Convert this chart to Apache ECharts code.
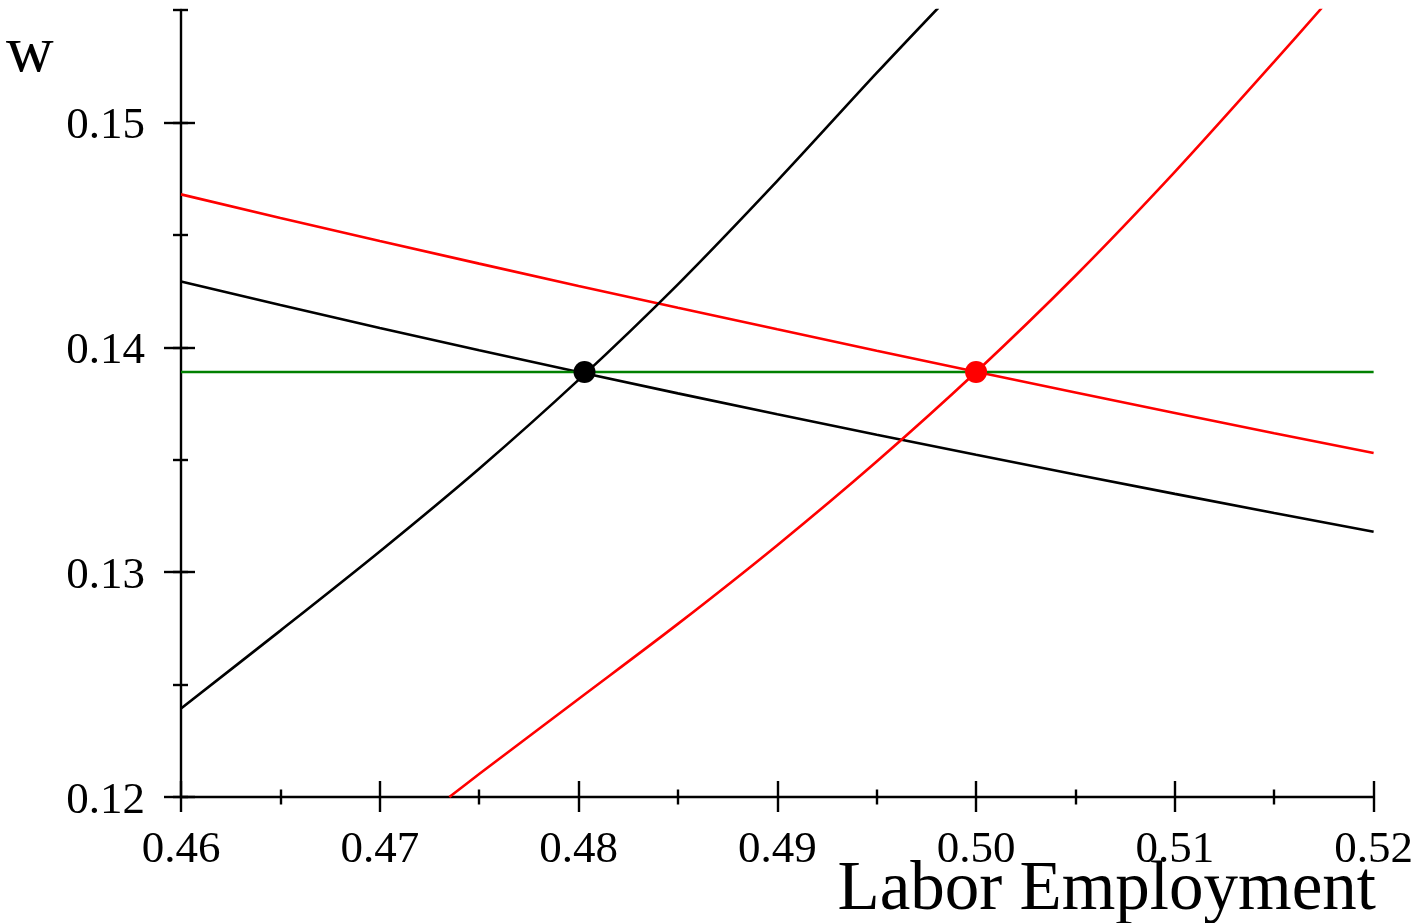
<!DOCTYPE html>
<html>
<head>
<meta charset="utf-8">
<script src="https://cdn.jsdelivr.net/npm/echarts@6/dist/echarts.min.js"></script>
<style>
  html, body { margin: 0; padding: 0; background: #fff; }
  #chart { width: 1416px; height: 923px; }
</style>
</head>
<body>
<div id="chart"></div>
<script>
// labour demand curves, sampled on a common grid of L
var gridL = [0.46, 0.465, 0.47, 0.475, 0.48, 0.485, 0.49, 0.495, 0.50, 0.505, 0.51, 0.515, 0.52];
var demandBlack = [0.14293, 0.14188, 0.14086, 0.13987, 0.13890, 0.13795, 0.13702, 0.13611, 0.13522, 0.13434, 0.13348, 0.13263, 0.13180];
var demandRed = [0.1468, 0.14575, 0.14473, 0.14372, 0.14273, 0.14176, 0.1408, 0.13985, 0.13891, 0.13799, 0.13708, 0.13618, 0.1353];

// labour supply curves
var supplyBlackL = [0.46, 0.465, 0.47, 0.475, 0.48, 0.485, 0.49, 0.495, 0.4981];
var supplyBlackW = [0.12394, 0.1274, 0.13092, 0.1346, 0.13855, 0.1428, 0.1474, 0.1522, 0.1551];
var supplyRedL = [0.4735, 0.475, 0.48, 0.485, 0.49, 0.495, 0.50, 0.505, 0.51, 0.515, 0.5174];
var supplyRedW = [0.12, 0.12102, 0.12436, 0.1277, 0.1312, 0.13492, 0.1389, 0.14318, 0.1478, 0.1527, 0.1551];

// fixed wage line
var wageL = [0.46, 0.52];
var wageW = [0.1389, 0.1389];

// equilibrium points
var eqL = [0.4803, 0.50];
var eqW = [0.1389, 0.1389];
var eqColor = ["#000000", "#ff0000"];

var yTicks = [0.12, 0.13, 0.14, 0.15];

var zip = function (xs, ys) {
  return xs.map(function (x, i) { return [x, ys[i]]; });
};

var font = "'Liberation Serif', 'Times New Roman', serif";
var fmt = function (v) { return v.toFixed(2); };

var tickLine = { color: "#000", width: 2.4 };
var xBase = {
  type: "value", position: "bottom", min: 0.46, max: 0.52, interval: 0.01,
  splitLine: { show: false }
};
var yBase = {
  type: "value", position: "left", min: 0.12, max: 0.155,
  splitLine: { show: false }
};

// ticks cross the axis: extra axes on the same side carry the inner half
var myChart = echarts.init(document.getElementById("chart"));
myChart.setOption({
  animation: false,
  textStyle: { fontFamily: font },
  grid: { left: 181, right: 40, top: 10, bottom: 126, containLabel: false },
  title: [
    { text: "w", left: 6, top: 21, padding: 0,
      textStyle: { fontFamily: font, fontSize: 66, fontWeight: "normal", color: "#000" } },
    { text: "Labor Employment", right: 40, top: 856, padding: 0,
      textStyle: { fontFamily: font, fontSize: 69, fontWeight: "normal", color: "#000" } }
  ],
  xAxis: [
    Object.assign({}, xBase, {
      axisLine: { show: true, lineStyle: tickLine },
      axisTick: { show: true, length: 15, lineStyle: tickLine },
      minorTick: { show: true, splitNumber: 2, length: 7.5, lineStyle: tickLine },
      axisLabel: { show: true, formatter: fmt, fontSize: 45, color: "#000", margin: 31, fontFamily: font }
    }),
    Object.assign({}, xBase, {
      axisLine: { show: false },
      axisTick: { show: true, inside: true, length: 16, lineStyle: tickLine },
      minorTick: { show: true, splitNumber: 2, length: 7.5, lineStyle: tickLine },
      axisLabel: { show: false }
    })
  ],
  yAxis: [
    Object.assign({}, yBase, {
      interval: 0.01,
      axisLine: { show: true, lineStyle: tickLine },
      axisTick: { show: true, length: 17, lineStyle: tickLine, customValues: yTicks },
      axisLabel: { show: true, customValues: yTicks, formatter: fmt, fontSize: 45, color: "#000",
        margin: 36, fontFamily: font, verticalAlign: "top", lineHeight: 8 }
    }),
    Object.assign({}, yBase, {
      offset: -14,
      interval: 0.01,
      axisLine: { show: false },
      axisTick: { show: true, length: 14, lineStyle: tickLine, customValues: yTicks },
      axisLabel: { show: false }
    }),
    Object.assign({}, yBase, {
      interval: 0.005,
      axisLine: { show: false },
      axisTick: { show: true, length: 8, lineStyle: tickLine },
      axisLabel: { show: false }
    }),
    Object.assign({}, yBase, {
      offset: -7,
      interval: 0.005,
      axisLine: { show: false },
      axisTick: { show: true, length: 7, lineStyle: tickLine },
      axisLabel: { show: false }
    })
  ],
  series: [
    { type: "line", data: zip(gridL, demandBlack), showSymbol: false,
      lineStyle: { color: "#000", width: 2.6 } },
    { type: "line", data: zip(gridL, demandRed), showSymbol: false,
      lineStyle: { color: "#ff0000", width: 2.6 } },
    { type: "line", data: zip(supplyBlackL, supplyBlackW), showSymbol: false, smooth: 0.3,
      lineStyle: { color: "#000", width: 2.6 } },
    { type: "line", data: zip(supplyRedL, supplyRedW), showSymbol: false, smooth: 0.3,
      lineStyle: { color: "#ff0000", width: 2.6 } },
    { type: "line", data: zip(wageL, wageW), showSymbol: false,
      lineStyle: { color: "#008000", width: 2.6 } },
    { type: "scatter", symbolSize: 22, z: 5,
      data: eqL.map(function (l, i) {
        return { value: [l, eqW[i]], itemStyle: { color: eqColor[i], opacity: 1 } };
      }) }
  ]
});
</script>
</body>
</html>
